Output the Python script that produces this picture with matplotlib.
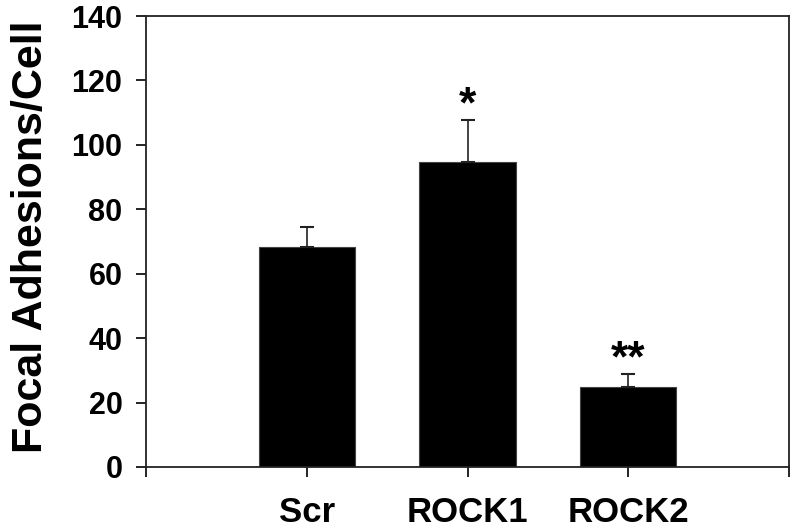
import matplotlib
matplotlib.use("Agg")
import matplotlib.pyplot as plt

# Data
groups = ["Scr", "ROCK1", "ROCK2"]
means = [68.4, 94.8, 24.9]
errors = [6.2, 12.8, 4.1]
stars = ["", "*", "**"]

plt.rcParams['font.family'] = ['Liberation Sans', 'DejaVu Sans']
plt.rcParams['font.weight'] = 'bold'

fig = plt.figure(figsize=(7.99, 5.31), dpi=100)
ax = fig.add_axes([146 / 799, (531 - 467) / 531, (789 - 146) / 799, (467 - 16) / 531])

x = [1, 2, 3]
ax.bar(x, means, width=0.6, color="black", edgecolor="#444444", linewidth=0.8, zorder=2)
ax.errorbar(x, means, yerr=[[0, 0, 0], errors], fmt="none", ecolor="#222222",
            elinewidth=1.2, capsize=5, capthick=1.5, zorder=3)

# significance stars
for xi, m, e, s in zip(x, means, errors, stars):
    if s:
        ax.text(xi, m + e - 2.0, s, ha="center", va="bottom", fontsize=32, fontweight="bold")

ax.set_xlim(0, 4)
ax.set_ylim(0, 140)
ax.set_yticks(range(0, 141, 20))
ax.set_xticks([0, 1, 2, 3, 4])
ax.set_xticklabels([""] + groups + [""])
ax.tick_params(axis="y", direction="out", length=7, width=1.2, labelsize=22, pad=10)
ax.tick_params(axis="x", direction="out", length=7, width=1.2, labelsize=25, pad=14)
for lab in ax.get_xticklabels() + ax.get_yticklabels():
    lab.set_fontweight("bold")
for sp in ax.spines.values():
    sp.set_linewidth(1.3)
    sp.set_color("#222222")

ax.set_ylabel("Focal Adhesions/Cell", fontsize=31, fontweight="bold")
ax.yaxis.set_label_coords(-0.147, 0.511)

fig.savefig("out.png", dpi=100)
